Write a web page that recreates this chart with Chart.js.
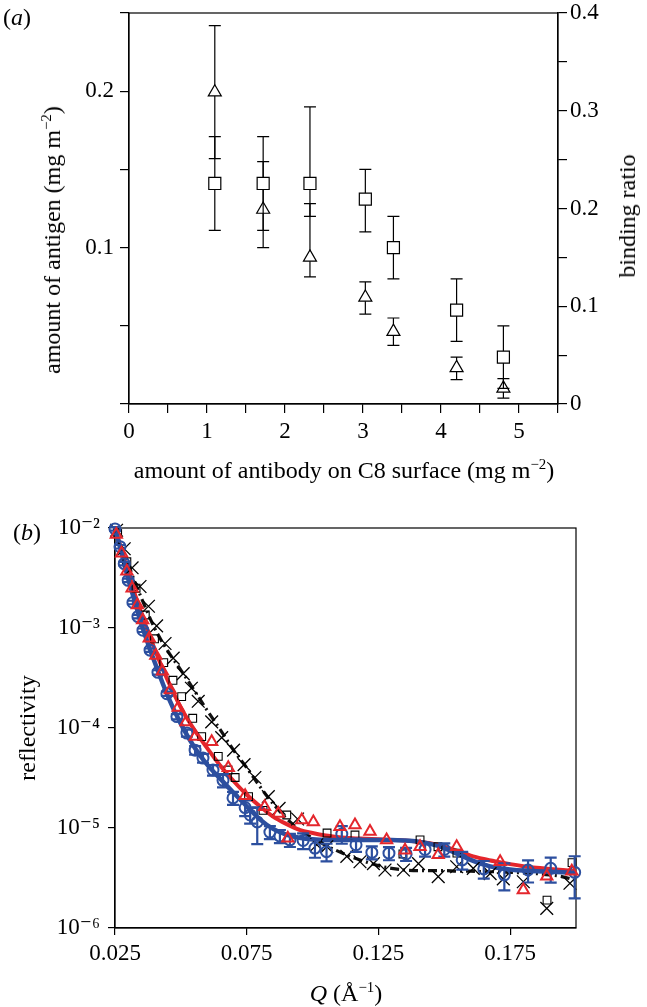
<!DOCTYPE html>
<html>
<head>
<meta charset="utf-8">
<script src="https://cdn.jsdelivr.net/npm/chart.js@4.4.0/dist/chart.umd.min.js"></script>
<style>
  html, body { margin: 0; padding: 0; background: #fff; }
  #wrap { position: relative; width: 647px; height: 1007px; overflow: hidden;
          font-family: "Liberation Serif", "DejaVu Serif", serif; color: #000; }
  canvas { position: absolute; left: 0; }
  #chartA { top: 0; }
  #chartB { top: 500px; }
  .lbl { position: absolute; white-space: nowrap; font-size: 24px; line-height: 1;
         transform: translate(-50%, -50%); }
  .lbl.rot { transform: translate(-50%, -50%) rotate(-90deg); }
  sup { font-size: 0.62em; vertical-align: 0.62em; line-height: 0; }
</style>
</head>
<body>
<div id="wrap">
  <canvas id="chartA" width="647" height="500"></canvas>
  <canvas id="chartB" width="647" height="507"></canvas>

  <div class="lbl" style="left:17px;top:17px">(<i>a</i>)</div>
  <div class="lbl rot" style="left:52px;top:240px">amount of antigen (mg m<sup>−2</sup>)</div>
  <div class="lbl rot" style="left:627px;top:216px">binding ratio</div>
  <div class="lbl" style="left:344px;top:470px">amount of antibody on C8 surface (mg m<sup>−2</sup>)</div>

  <div class="lbl" style="left:27px;top:532px">(<i>b</i>)</div>
  <div class="lbl rot" style="left:27px;top:728px">reflectivity</div>
  <div class="lbl" style="left:346px;top:993px"><i>Q</i> (Å<sup>−1</sup>)</div>
</div>

<script>
// ---- panel (a): antigen binding vs antibody coverage ----
const antibody  = [1.10, 1.72, 2.32, 3.03, 3.39, 4.20, 4.80];
const antigen   = [0.141, 0.141, 0.141, 0.131, 0.100, 0.060, 0.030];
const antigenLo = [0.111, 0.111, 0.120, 0.110, 0.080, 0.040, 0.010];
const antigenHi = [0.171, 0.171, 0.190, 0.150, 0.120, 0.080, 0.050];
const ratio     = [0.319, 0.199, 0.150, 0.109, 0.074, 0.037, 0.016];
const ratioLo   = [0.251, 0.160, 0.130, 0.092, 0.060, 0.025, 0.006];
const ratioHi   = [0.387, 0.248, 0.205, 0.125, 0.088, 0.048, 0.026];

// ---- panel (b): reflectivity curves ----
const xTicksB = [0.025, 0.075, 0.125, 0.175];
const yTicksB = [1e-6, 1e-5, 1e-4, 1e-3, 1e-2];
const yTickLabelsB = ['10⁻⁶', '10⁻⁵', '10⁻⁴', '10⁻³', '10⁻²'];

const QBlue = [0.0250, 0.0269, 0.0285, 0.0300, 0.0318, 0.0337, 0.0356, 0.0383, 0.0413, 0.0447,
               0.0485, 0.0523, 0.0554, 0.0584, 0.0622, 0.0660, 0.0698, 0.0744, 0.0763, 0.0790,
               0.0838, 0.0876, 0.0914, 0.0964, 0.1009, 0.1053, 0.1111, 0.1165, 0.1225, 0.1290,
               0.1355, 0.1427, 0.1500, 0.1568, 0.1650, 0.1728, 0.1818, 0.1904, 0.1995];
const RBlue = [9.8e-3, 6.5e-3, 4.4e-3, 3.0e-3, 1.8e-3, 1.3e-3, 9.5e-4, 6.0e-4, 3.6e-4, 2.2e-4,
               1.3e-4, 8.9e-5, 6.0e-5, 5.0e-5, 3.8e-5, 3.0e-5, 2.0e-5, 1.6e-5, 1.35e-5, 1.15e-5,
               9.1e-6, 8.3e-6, 7.6e-6, 7.5e-6, 6.3e-6, 5.8e-6, 8.7e-6, 6.8e-6, 5.7e-6, 5.6e-6,
               5.5e-6, 6.1e-6, 6.1e-6, 4.8e-6, 3.9e-6, 3.4e-6, 3.8e-6, 3.95e-6, 3.6e-6];
const blueErr = [0.04, 0.04, 0.04, 0.04, 0.04, 0.04, 0.04, 0.04, 0.05, 0.05,
                 0.06, 0.08, 0.10, 0.10, 0.12, 0.15, 0.15, 0.18, 0.18, 0.40,
                 0.15, 0.15, 0.15, 0.18, 0.20, 0.20, 0.20, 0.15, 0.15, 0.15,
                 0.15, 0.15, 0.15, 0.20, 0.20, 0.30, 0.25, 0.28, 0.45];

const QRed = [0.0255, 0.0275, 0.0295, 0.0315, 0.0335, 0.0355, 0.0380, 0.0405, 0.0430, 0.0460,
              0.0490, 0.0520, 0.0555, 0.0617, 0.0680, 0.0744, 0.0818, 0.0870, 0.0906, 0.0959,
              0.1003, 0.1104, 0.1161, 0.1218, 0.1281, 0.1351, 0.1408, 0.1477, 0.1547, 0.1712,
              0.1800, 0.1889, 0.1984];
const RRed = [8.6e-3, 5.6e-3, 3.7e-3, 2.5e-3, 1.7e-3, 1.2e-3, 7.9e-4, 5.3e-4, 3.7e-4, 2.4e-4,
              1.6e-4, 1.15e-4, 8.2e-5, 7.3e-5, 4.0e-5, 2.1e-5, 1.63e-5, 1.4e-5, 7.9e-6, 1.2e-5,
              1.15e-5, 1.03e-5, 1.07e-5, 9.2e-6, 7.6e-6, 6.0e-6, 6.5e-6, 5.4e-6, 6.5e-6, 4.6e-6,
              2.4e-6, 3.3e-6, 3.7e-6];

const QSquare = [0.0260, 0.0295, 0.0330, 0.0365, 0.0400, 0.0435, 0.0470, 0.0503, 0.0545, 0.0579,
                 0.0642, 0.0679, 0.0706, 0.0757, 0.0812, 0.0902, 0.1055, 0.1161, 0.1343, 0.1408,
                 0.1476, 0.1548, 0.1890, 0.1985];
const RSquare = [8.8e-3, 4.6e-3, 2.5e-3, 1.35e-3, 7.8e-4, 4.5e-4, 3.0e-4, 2.06e-4, 1.25e-4, 8.2e-5,
                 5.2e-5, 3.8e-5, 3.2e-5, 2.06e-5, 1.5e-5, 1.35e-5, 8.9e-6, 8.5e-6, 5.5e-6, 7.6e-6,
                 6.5e-6, 5.6e-6, 1.9e-6, 4.5e-6];

const QCross = [0.0256, 0.0285, 0.0315, 0.0345, 0.0377, 0.0408, 0.0440, 0.0471, 0.0509, 0.0540,
                0.0566, 0.0617, 0.0655, 0.0700, 0.0740, 0.0781, 0.0832, 0.0873, 0.0943, 0.1016,
                0.1054, 0.1130, 0.1180, 0.1231, 0.1275, 0.1345, 0.1402, 0.1477, 0.1547, 0.1610,
                0.1674, 0.1724, 0.1800, 0.1889, 0.1977];
const RCross = [9.5e-3, 6.2e-3, 4.0e-3, 2.6e-3, 1.65e-3, 1.05e-3, 7.0e-4, 5.0e-4, 3.5e-4, 2.5e-4,
                1.85e-4, 1.15e-4, 8.0e-5, 6.0e-5, 4.3e-5, 3.2e-5, 2.06e-5, 1.57e-5, 1.23e-5, 6.8e-6,
                6.5e-6, 5.2e-6, 4.6e-6, 4.4e-6, 3.8e-6, 3.8e-6, 4.4e-6, 3.26e-6, 4.1e-6, 3.95e-6,
                3.5e-6, 3.1e-6, 2.9e-6, 1.57e-6, 2.8e-6];

// fitted model curves, all on one Q grid
const fitQ = [0.025, 0.0275, 0.030, 0.0325, 0.035, 0.0375, 0.040, 0.045, 0.050, 0.055,
              0.060, 0.065, 0.070, 0.075, 0.080, 0.085, 0.090, 0.095, 0.100, 0.105,
              0.110, 0.115, 0.120, 0.125, 0.130, 0.135, 0.140, 0.145, 0.150, 0.155,
              0.160, 0.165, 0.170, 0.175, 0.180, 0.185, 0.190, 0.195, 0.200];
const fitBlue = [1.0e-2, 5.6e-3, 3.1e-3, 1.85e-3, 1.1e-3, 7.0e-4, 4.6e-4, 2.1e-4, 1.1e-4, 6.5e-5,
                 4.3e-5, 3.1e-5, 2.25e-5, 1.65e-5, 1.22e-5, 9.8e-6, 8.6e-6, 8.0e-6, 7.7e-6, 7.6e-6,
                 7.6e-6, 7.6e-6, 7.6e-6, 7.6e-6, 7.6e-6, 7.5e-6, 7.3e-6, 6.9e-6, 6.3e-6, 5.5e-6,
                 4.8e-6, 4.3e-6, 4.0e-6, 3.85e-6, 3.75e-6, 3.7e-6, 3.65e-6, 3.6e-6, 3.55e-6];
const fitRed = [1.0e-2, 6.0e-3, 3.6e-3, 2.2e-3, 1.4e-3, 9.3e-4, 6.2e-4, 3.0e-4, 1.6e-4, 9.7e-5,
                6.3e-5, 4.2e-5, 2.95e-5, 2.15e-5, 1.65e-5, 1.3e-5, 1.1e-5, 9.6e-6, 8.9e-6, 8.4e-6,
                8.1e-6, 7.9e-6, 7.8e-6, 7.7e-6, 7.6e-6, 7.5e-6, 7.3e-6, 7.0e-6, 6.5e-6, 5.9e-6,
                5.3e-6, 4.9e-6, 4.6e-6, 4.35e-6, 4.15e-6, 4.0e-6, 3.9e-6, 3.8e-6, 3.7e-6];
const fitBlack = [1.0e-2, 6.5e-3, 4.4e-3, 2.9e-3, 2.0e-3, 1.4e-3, 1.0e-3, 5.9e-4, 3.8e-4, 2.4e-4,
                  1.5e-4, 9.6e-5, 6.0e-5, 4.0e-5, 2.6e-5, 1.75e-5, 1.25e-5, 9.6e-6, 7.9e-6, 6.7e-6,
                  5.8e-6, 5.1e-6, 4.6e-6, 4.2e-6, 3.95e-6, 3.8e-6, 3.75e-6, 3.75e-6, 3.75e-6, 3.7e-6,
                  3.7e-6, 3.65e-6, 3.65e-6, 3.6e-6, 3.55e-6, 3.5e-6, 3.4e-6, 3.25e-6, 3.0e-6];

const BLUE = '#2c4f9f';
const RED = '#e4262c';
const FONT = { family: '"Liberation Serif", "DejaVu Serif", serif', size: 23 };

const pts = (xs, ys) => xs.map((x, i) => ({ x: x, y: ys[i] }));

// vertical error bars, drawn just before a dataset's own markers
const errorBars = {
  id: 'errorBars',
  beforeDatasetDraw(chart, args) {
    const ds = chart.data.datasets[args.index];
    if (!ds.errLow) return;
    const xs = chart.scales[args.meta.xAxisID];
    const ys = chart.scales[args.meta.yAxisID];
    const ctx = chart.ctx;
    const w = ds.capHalf;
    ctx.save();
    ctx.strokeStyle = ds.errColor;
    ctx.lineWidth = ds.errWidth;
    ds.data.forEach((p, i) => {
      const x = xs.getPixelForValue(p.x);
      const lo = ys.getPixelForValue(ds.errLow[i]);
      const hi = ys.getPixelForValue(ds.errHigh[i]);
      ctx.beginPath();
      ctx.moveTo(x, lo); ctx.lineTo(x, hi);
      ctx.moveTo(x - w, lo); ctx.lineTo(x + w, lo);
      ctx.moveTo(x - w, hi); ctx.lineTo(x + w, hi);
      ctx.stroke();
    });
    ctx.restore();
  }
};

// closed box round the plot area
const frame = {
  id: 'frame',
  beforeDatasetsDraw(chart) {
    const a = chart.chartArea;
    const ctx = chart.ctx;
    ctx.save();
    ctx.strokeStyle = '#000';
    ctx.lineWidth = 1.2;
    ctx.strokeRect(a.left, a.top, a.right - a.left, a.bottom - a.top);
    ctx.restore();
  }
};

const tickGrid = len => ({ display: true, drawOnChartArea: false, drawTicks: true,
                           tickLength: len, color: '#000', lineWidth: 1.2 });

new Chart(document.getElementById('chartA'), {
  type: 'scatter',
  data: {
    datasets: [
      {
        label: 'antigen',
        data: pts(antibody, antigen),
        yAxisID: 'y',
        order: 0,
        pointStyle: 'rect',
        pointRadius: 8.5,
        borderColor: '#000',
        backgroundColor: '#fff',
        borderWidth: 1.2,
        errLow: antigenLo, errHigh: antigenHi,
        errColor: '#000', errWidth: 1.2, capHalf: 6
      },
      {
        label: 'binding ratio',
        data: pts(antibody, ratio),
        yAxisID: 'y1',
        order: 1,
        pointStyle: 'triangle',
        pointRadius: 7.5,
        borderColor: '#000',
        backgroundColor: '#fff',
        borderWidth: 1.2,
        errLow: ratioLo, errHigh: ratioHi,
        errColor: '#000', errWidth: 1.2, capHalf: 6
      }
    ]
  },
  options: {
    responsive: false,
    animation: false,
    events: [],
    devicePixelRatio: 1,
    layout: { padding: { top: 13, left: 0, right: 0, bottom: 0 } },
    plugins: { legend: { display: false }, tooltip: { enabled: false } },
    scales: {
      x: {
        type: 'linear', position: 'bottom', min: 0, max: 5.5,
        grid: tickGrid(9),
        border: { display: true, color: '#000', width: 1.2 },
        ticks: {
          stepSize: 0.5, autoSkip: false, maxRotation: 0, padding: 5,
          color: '#000', font: FONT,
          callback: v => Math.abs(v - Math.round(v)) < 1e-6 ? String(Math.round(v)) : ''
        },
        afterFit: s => { s.height = 96; s.paddingLeft = 0; s.paddingRight = 0; }
      },
      y: {
        type: 'linear', position: 'left', min: 0, max: 0.25,
        grid: tickGrid(9),
        border: { display: true, color: '#000', width: 1.2 },
        ticks: {
          stepSize: 0.05, autoSkip: false, padding: 6, color: '#000', font: FONT,
          callback: v => {
            const k = Math.round(v * 100);
            return (k > 0 && k % 10 === 0) ? (k / 100).toFixed(1) : '';
          }
        },
        afterFit: s => { s.width = 129; s.paddingTop = 0; s.paddingBottom = 0; }
      },
      y1: {
        type: 'linear', position: 'right', min: 0, max: 0.4,
        grid: tickGrid(9),
        border: { display: true, color: '#000', width: 1.2 },
        ticks: {
          stepSize: 0.05, autoSkip: false, padding: 3, color: '#000', font: FONT,
          callback: v => {
            const k = Math.round(v * 100);
            if (k === 0) return '0';
            return k % 10 === 0 ? (k / 100).toFixed(1) : '';
          }
        },
        afterFit: s => { s.width = 89; s.paddingTop = 0; s.paddingBottom = 0; }
      }
    }
  },
  plugins: [errorBars, frame]
});

new Chart(document.getElementById('chartB'), {
  type: 'scatter',
  data: {
    datasets: [
      {
        label: 'red data',
        data: pts(QRed, RRed),
        order: 0, clip: false,
        pointStyle: 'triangle', pointRadius: 6.5,
        borderColor: RED, backgroundColor: 'rgba(0,0,0,0)', borderWidth: 2
      },
      {
        label: 'blue data',
        data: pts(QBlue, RBlue),
        order: 1, clip: false,
        pointStyle: 'circle', pointRadius: 5.5,
        borderColor: BLUE, backgroundColor: 'rgba(0,0,0,0)', borderWidth: 2,
        errLow: RBlue.map((r, i) => r * (1 - blueErr[i])),
        errHigh: RBlue.map((r, i) => r * (1 + blueErr[i])),
        errColor: BLUE, errWidth: 2.2, capHalf: 6
      },
      {
        label: 'cross data',
        data: pts(QCross, RCross),
        order: 2, clip: false,
        pointStyle: 'crossRot', pointRadius: 9,
        borderColor: '#000', borderWidth: 1.3
      },
      {
        label: 'square data',
        data: pts(QSquare, RSquare),
        order: 3, clip: false,
        pointStyle: 'rect', pointRadius: 5.5,
        borderColor: '#000', backgroundColor: 'rgba(0,0,0,0)', borderWidth: 1.1
      },
      {
        label: 'blue fit',
        data: pts(fitQ, fitBlue),
        order: 4, clip: false, showLine: true, pointRadius: 0,
        borderColor: BLUE, borderWidth: 4.5, cubicInterpolationMode: 'monotone'
      },
      {
        label: 'red fit',
        data: pts(fitQ, fitRed),
        order: 5, clip: false, showLine: true, pointRadius: 0,
        borderColor: RED, borderWidth: 4, cubicInterpolationMode: 'monotone'
      },
      {
        label: 'black fit',
        data: pts(fitQ, fitBlack),
        order: 6, clip: false, showLine: true, pointRadius: 0,
        borderColor: '#111', borderWidth: 3.2, borderDash: [9, 4, 2, 4],
        cubicInterpolationMode: 'monotone'
      }
    ]
  },
  options: {
    responsive: false,
    animation: false,
    events: [],
    devicePixelRatio: 1,
    layout: { padding: { top: 28, left: 0, right: 71, bottom: 0 } },
    plugins: { legend: { display: false }, tooltip: { enabled: false } },
    scales: {
      x: {
        type: 'linear', position: 'bottom', min: 0.025, max: 0.2,
        grid: tickGrid(7),
        border: { display: true, color: '#000', width: 1.2 },
        afterBuildTicks: s => { s.ticks = xTicksB.map(v => ({ value: v })); },
        ticks: {
          autoSkip: false, maxRotation: 0, padding: 5, color: '#000', font: FONT,
          callback: v => v.toFixed(3)
        },
        afterFit: s => { s.height = 79; s.paddingLeft = 0; s.paddingRight = 0; }
      },
      y: {
        type: 'logarithmic', position: 'left', min: 1e-6, max: 1e-2,
        grid: tickGrid(7),
        border: { display: true, color: '#000', width: 1.2 },
        afterBuildTicks: s => { s.ticks = yTicksB.map(v => ({ value: v })); },
        ticks: {
          autoSkip: false, padding: 8, color: '#000', font: FONT,
          callback: v => {
            const i = yTicksB.findIndex(t => Math.abs(Math.log10(t) - Math.log10(v)) < 1e-6);
            return i >= 0 ? yTickLabelsB[i] : '';
          }
        },
        afterFit: s => { s.width = 115; s.paddingTop = 0; s.paddingBottom = 0; }
      }
    }
  },
  plugins: [errorBars, frame]
});
</script>
</body>
</html>
